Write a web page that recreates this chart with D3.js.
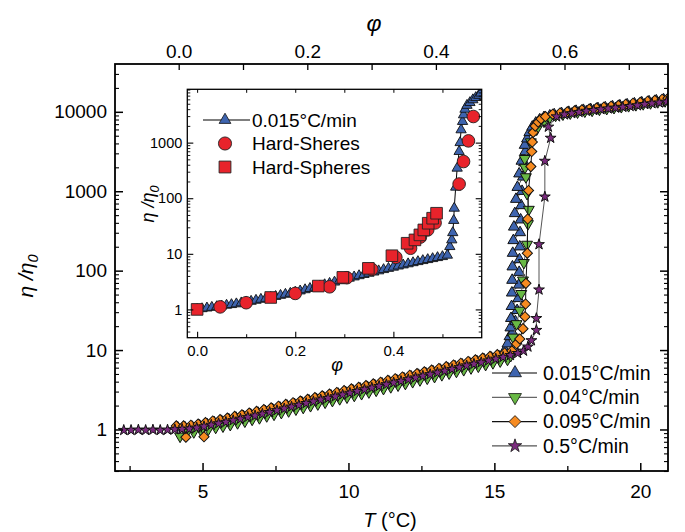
<!DOCTYPE html>
<html><head><meta charset="utf-8">
<script src="https://cdn.jsdelivr.net/npm/d3@7"></script>
<style>body{margin:0;background:#fff}</style>
</head><body><svg id="c" width="685" height="532"></svg>
<script>
// ---------------- DATA ----------------
const seriesNames = ["0.015°C/min", "0.04°C/min", "0.095°C/min", "0.5°C/min"];
const xTicksT = [5, 10, 15, 20];
const yTicksMain = [1, 10, 100, 1000, 10000];
const xTicksPhiTop = [0.0, 0.2, 0.4, 0.6];
const insetXTicks = [0.0, 0.2, 0.4];
const insetYTicks = [1, 10, 100, 1000];
const insetNames = ["0.015°C/min", "Hard-Sheres", "Hard-Spheres"];

// 0.015 °C/min (T in °C, eta/eta0)
const tBlue = [4.15,4.4,4.65,4.9,5.15,5.4,5.65,5.9,6.15,6.4,6.65,6.9,7.15,7.4,7.65,7.9,8.15,8.4,8.65,8.9,9.15,9.4,9.65,9.9,10.15,10.4,10.65,10.9,11.15,11.4,11.65,11.9,12.15,12.4,12.65,12.9,13.15,13.4,13.65,13.9,14.15,14.4,14.65,14.9,15.15,15.3,
 15.36,15.45,15.52,15.62,15.55,15.72,15.57,15.78,15.59,15.82,15.6,15.84,15.61,15.85,15.62,15.86,15.63,15.87,15.65,15.88,15.67,15.9,15.7,15.92,15.74,15.95,15.79,15.98,15.85,16.02,15.93,16.06,16.04,16.12,16.2,16.3,16.42,16.55,16.7,
 16.9,17.05,17.3,17.55,17.8,18.05,18.3,18.55,18.8,19.05,19.3,19.55,19.8,20.05,20.3,20.55,20.8];
const etaBlue = [1.05,1.05,1.07,1.11,1.16,1.22,1.27,1.33,1.39,1.46,1.53,1.61,1.69,1.78,1.87,1.97,2.07,2.18,2.29,2.40,2.52,2.65,2.79,2.93,3.08,3.24,3.40,3.58,3.76,3.95,4.16,4.37,4.59,4.83,5.07,5.33,5.60,5.89,6.19,6.50,6.84,7.19,7.55,7.94,8.34,8.61,
 10.0,12.0,14.8,16.6,19.1,22.9,25.1,31.6,35.5,44.7,52.5,66.1,75.9,95.5,112,138,166,200,240,302,355,437,525,661,794,1000,1122,1514,1660,2291,2399,3162,3802,4571,5495,6457,7244,7943,8511,
 8913,9230,9550,9890,10190,10470,10720,11020,11300,11610,11940,12300,12650,13030,13430,13800,14220];

// 0.04 °C/min
const tGreen = [4.23,4.45,4.7,4.95,5.2,5.45,5.7,5.95,6.2,6.45,6.7,6.95,7.2,7.45,7.7,7.95,8.2,8.45,8.7,8.95,9.2,9.45,9.7,9.95,10.2,10.45,10.7,10.95,11.2,11.45,11.7,11.95,12.2,12.45,12.7,12.95,13.2,13.45,13.7,13.95,14.2,14.45,14.7,14.95,15.2,15.45,
 15.56,15.64,15.76,15.87,15.92,15.98,16.01,16.12,16.15,16.18,16.12,16.08,16.05,16.04,16.25,16.45,16.7,16.9,
 17.1,17.35,17.6,17.85,18.1,18.35,18.6,18.85,19.1,19.35,19.6,19.85,20.1,20.35,20.6,20.85];
const etaGreen = [0.82,0.91,0.93,0.97,1.01,1.06,1.10,1.15,1.21,1.27,1.34,1.40,1.48,1.55,1.63,1.71,1.80,1.89,1.99,2.09,2.20,2.31,2.43,2.55,2.68,2.82,2.96,3.11,3.27,3.44,3.61,3.79,3.99,4.20,4.41,4.63,4.88,5.12,5.38,5.65,5.94,6.25,6.56,6.90,7.26,7.62,
 8.5,14.5,21.4,31.6,51.3,75.9,126,214,389,589,933,1514,1995,2570,4169,6026,7586,8511,
 9020,9330,9620,9890,10160,10420,10720,10960,11270,11590,11910,12250,12590,12940,13340,13710];

// 0.095 °C/min
const tOrange = [4.1,4.35,4.43,4.6,4.85,5.05,5.1,5.35,5.6,5.85,6.1,6.35,6.6,6.85,7.1,7.35,7.6,7.85,8.1,8.35,8.6,8.85,9.1,9.35,9.6,9.85,10.1,10.35,10.6,10.85,11.1,11.35,11.6,11.85,12.1,12.35,12.6,12.85,13.1,13.35,13.6,13.85,14.1,14.35,14.6,14.85,15.1,15.35,15.6,
 15.76,15.87,15.98,16.05,16.07,16.08,16.13,16.14,16.17,16.25,16.28,16.3,16.33,16.4,16.5,16.6,16.75,
 17.0,17.25,17.5,17.75,18.0,18.25,18.5,18.75,19.0,19.25,19.5,19.75,20.0,20.25,20.5,20.75,20.95];
const etaOrange = [1.11,1.11,0.80,1.13,1.17,0.81,1.22,1.28,1.33,1.39,1.46,1.53,1.61,1.69,1.78,1.87,1.96,2.07,2.17,2.28,2.40,2.52,2.65,2.79,2.92,3.08,3.24,3.40,3.57,3.75,3.94,4.15,4.36,4.58,4.82,5.06,5.32,5.59,5.87,6.18,6.49,6.82,7.18,7.53,7.93,8.32,8.75,9.20,9.77,
 12.0,13.8,18.6,26.3,38.0,69.2,166,447,1023,2042,3162,4169,5495,6607,7413,8128,8710,
 9330,9660,10000,10280,10590,10840,11140,11430,11750,12080,12450,12820,13180,13580,13960,14390,14790];

// 0.5 °C/min
const tPurple = [2.3,2.55,2.8,3.05,3.3,3.55,3.8,4.05,4.3,4.55,4.8,5.05,5.3,5.55,5.8,6.05,6.3,6.55,6.8,7.05,7.3,7.55,7.8,8.05,8.3,8.55,8.8,9.05,9.3,9.55,9.8,10.05,10.3,10.55,10.8,11.05,11.3,11.55,11.8,12.05,12.3,12.55,12.8,13.05,13.3,13.55,13.8,14.05,14.3,14.55,14.8,15.05,15.3,15.55,15.8,16.0,
 16.15,16.27,16.44,16.44,16.53,16.53,16.73,16.73,16.93,16.85,
 17.13,17.4,17.65,17.9,18.15,18.4,18.65,18.9,19.15,19.4,19.65,19.9,20.15,20.4,20.65,20.9];
const etaPurple = [0.98,0.98,0.99,0.98,0.99,0.98,0.99,1.00,1.01,1.02,1.05,1.09,1.14,1.19,1.24,1.30,1.36,1.43,1.49,1.57,1.65,1.74,1.83,1.93,2.03,2.14,2.25,2.37,2.48,2.60,2.74,2.88,3.03,3.19,3.34,3.51,3.69,3.88,4.06,4.27,4.49,4.72,4.94,5.19,5.46,5.75,6.05,6.37,6.67,6.98,7.36,7.74,8.15,8.61,9.12,9.77,
 11.0,13.2,17.8,25.1,57.5,214,851,2400,4680,6460,
 8710,9230,9550,9890,10230,10470,10720,10960,11220,11480,11750,12020,12450,12740,13030,13340];

// Inset: 0.015 °C/min vs phi
const phiInset = [0,0.01,0.02,0.03,0.04,0.05,0.06,0.07,0.08,0.09,0.10,0.11,0.12,0.13,0.14,0.15,0.16,0.17,0.18,0.19,0.20,0.21,0.22,0.23,0.24,0.25,0.26,0.27,0.28,0.29,0.30,0.31,0.32,0.33,0.34,0.35,0.36,0.37,0.38,0.39,0.40,0.41,0.42,0.43,0.44,0.45,0.46,0.47,0.48,0.49,0.50,0.51,
 0.515,0.519,0.521,0.523,0.524,0.527,0.530,0.534,0.536,0.538,0.541,0.543,0.546,0.550,0.556,0.562,0.568,0.574,0.578];
const etaInset = [1.00,1.03,1.06,1.09,1.12,1.15,1.19,1.22,1.26,1.31,1.35,1.40,1.46,1.52,1.58,1.64,1.71,1.79,1.87,1.95,2.04,2.15,2.26,2.38,2.50,2.63,2.78,2.94,3.10,3.28,3.47,3.65,3.84,4.04,4.25,4.47,4.70,4.94,5.20,5.47,5.75,6.03,6.31,6.61,6.92,7.24,7.55,7.87,8.20,8.55,8.91,9.44,
 13.5,17.8,24.0,39.8,66.1,158,347,692,1000,1700,2400,3160,3980,4680,5250,5890,6460,7080,7760];
// Hard spheres (circles)
const phiHSc = [0.047,0.10,0.20,0.27,0.305,0.356,0.405,0.435,0.455,0.47,0.485,0.534,0.543,0.553,0.563];
const etaHSc = [1.11,1.32,1.94,2.55,3.71,5.26,8.65,12.6,20,27,36,180,457,1075,2950];
// Hard spheres (squares)
const phiHSs = [0,0.15,0.247,0.297,0.349,0.397,0.428,0.444,0.454,0.462,0.471,0.480,0.488];
const etaHSs = [1.0,1.64,2.63,3.77,5.48,9.25,15.5,17.8,21.9,26.9,35.5,43.7,53.7];

// ---------------- DRAW ----------------
const FONT = '"Liberation Sans", Arial, Helvetica, sans-serif';
const svg = d3.select("#c").attr("font-family", FONT);
const L = 115, R = 668, TOP = 64, B = 471;
const x = d3.scaleLinear().domain([2, 20.95]).range([L, R]);
const y = d3.scaleLog().domain([0.3, 40000]).range([B, TOP]);
const xp = d3.scaleLinear().domain([0, 0.7]).range([178.7, 628.8]);

function minorLog(dom) {
  const out = [];
  for (let k = -2; k <= 5; k++) for (let m = 2; m <= 9; m++) {
    const v = m * Math.pow(10, k);
    if (v > dom[0] && v < dom[1]) out.push(v);
  }
  return out;
}
function styleAxis(g, fs, sw) {
  g.attr("font-family", FONT).attr("font-size", fs);
  g.select(".domain").remove();
  g.selectAll(".tick line").attr("stroke", "#000").attr("stroke-width", sw);
  g.selectAll(".tick text").attr("fill", "#000");
}

const styles = [
  {fill: "#3e64af", type: d3.symbolTriangle, size: 52, rot: 0, line: "#555"},
  {fill: "#68b944", type: d3.symbolTriangle, size: 52, rot: 180, line: "#666"},
  {fill: "#f68b21", type: d3.symbolSquare, size: 52, rot: 45, line: "#111"},
  {fill: "#7b2b7e", type: d3.symbolStar, size: 36, rot: 0, line: "#555"}
];
const mainData = [[tBlue, etaBlue], [tGreen, etaGreen], [tOrange, etaOrange], [tPurple, etaPurple]];

svg.append("clipPath").attr("id", "clipMain").append("rect")
  .attr("x", L).attr("y", TOP).attr("width", R - L).attr("height", B - TOP);
const plot = svg.append("g").attr("clip-path", "url(#clipMain)");

mainData.forEach(([ts, es], i) => {
  const st = styles[i];
  const pts = ts.map((t, j) => [t, es[j]]);
  plot.append("path").datum(pts)
    .attr("fill", "none").attr("stroke", st.line).attr("stroke-width", 1)
    .attr("d", d3.line().x(d => x(d[0])).y(d => y(d[1])));
  plot.append("g").selectAll("path").data(pts).join("path")
    .attr("d", d3.symbol().type(st.type).size(st.size)())
    .attr("transform", d => `translate(${x(d[0])},${y(d[1])}) rotate(${st.rot})`)
    .attr("fill", st.fill).attr("stroke", "#111").attr("stroke-width", 1);
});

// frame & axes
svg.append("rect").attr("x", L).attr("y", TOP).attr("width", R - L).attr("height", B - TOP)
  .attr("fill", "none").attr("stroke", "#000").attr("stroke-width", 1.8);

const gb = svg.append("g").attr("transform", `translate(0,${B})`)
  .call(d3.axisBottom(x).tickValues(xTicksT).tickSize(-8).tickPadding(14).tickFormat(d3.format("d")));
styleAxis(gb, 19, 1.5);
const gbm = svg.append("g").attr("transform", `translate(0,${B})`)
  .call(d3.axisBottom(x).tickValues([2.5, 7.5, 12.5, 17.5]).tickSize(-5).tickFormat(""));
styleAxis(gbm, 19, 1.3);

const gt = svg.append("g").attr("transform", `translate(0,${TOP})`)
  .call(d3.axisTop(xp).tickValues(xTicksPhiTop).tickSize(-6).tickPadding(6).tickFormat(d3.format(".1f")));
styleAxis(gt, 19, 1.3);
const gtm = svg.append("g").attr("transform", `translate(0,${TOP})`)
  .call(d3.axisTop(xp).tickValues([0.1, 0.3, 0.5, 0.7]).tickSize(-6).tickFormat(""));
styleAxis(gtm, 19, 1.3);

const gl = svg.append("g").attr("transform", `translate(${L},0)`)
  .call(d3.axisLeft(y).tickValues(yTicksMain).tickSize(-8).tickPadding(8).tickFormat(d3.format("d")));
styleAxis(gl, 19, 1.5);
const glm = svg.append("g").attr("transform", `translate(${L},0)`)
  .call(d3.axisLeft(y).tickValues(minorLog(y.domain())).tickSize(-4).tickFormat(""));
styleAxis(glm, 19, 1.1);
const gr = svg.append("g").attr("transform", `translate(${R},0)`)
  .call(d3.axisRight(y).tickValues(yTicksMain).tickSize(-8).tickFormat(""));
styleAxis(gr, 19, 1.5);
const grm = svg.append("g").attr("transform", `translate(${R},0)`)
  .call(d3.axisRight(y).tickValues(minorLog(y.domain())).tickSize(-4).tickFormat(""));
styleAxis(grm, 19, 1.1);

// axis titles
function etaLabel(g, fs) {
  const t = g.append("text").attr("font-size", fs).attr("font-style", "italic")
    .attr("text-anchor", "middle").attr("fill", "#000");
  t.append("tspan").text("η /η");
  t.append("tspan").attr("font-size", fs * 0.7).attr("dy", fs * 0.25).text("0");
}
etaLabel(svg.append("g").attr("transform", "translate(33,276) rotate(-90)"), 21);
const tl = svg.append("text").attr("x", 390).attr("y", 527).attr("text-anchor", "middle")
  .attr("font-size", 20).attr("fill", "#000");
tl.append("tspan").attr("font-style", "italic").text("T");
tl.append("tspan").text(" (°C)");
svg.append("text").attr("x", 374).attr("y", 31).attr("text-anchor", "middle")
  .attr("font-size", 23).attr("font-style", "italic").attr("fill", "#000").text("φ");

// main legend
const lg = svg.append("g");
seriesNames.forEach((name, i) => {
  const st = styles[i];
  const ly = 373 + i * 24.3;
  lg.append("line").attr("x1", 492).attr("x2", 537).attr("y1", ly).attr("y2", ly)
    .attr("stroke", st.line).attr("stroke-width", 1.3);
  lg.append("path").attr("d", d3.symbol().type(st.type).size(st.size + 20)())
    .attr("transform", `translate(515,${ly}) rotate(${st.rot})`)
    .attr("fill", st.fill).attr("stroke", "#111").attr("stroke-width", 0.8);
  lg.append("text").attr("x", 543).attr("y", ly).attr("dy", "0.35em")
    .attr("font-size", 19.5).attr("fill", "#000").text(name);
});

// ---------------- INSET ----------------
const IL = 187.3, IR = 481.7, IT = 89.3, IB = 337.7;
const ix = d3.scaleLinear().domain([-0.02, 0.58]).range([IL, IR]);
const iy = d3.scaleLog().domain([0.31, 9100]).range([IB, IT]);
const inset = svg.append("g");
inset.append("rect").attr("x", IL).attr("y", IT).attr("width", IR - IL).attr("height", IB - IT)
  .attr("fill", "#fff");
inset.append("clipPath").attr("id", "clipIn").append("rect")
  .attr("x", IL).attr("y", IT).attr("width", IR - IL).attr("height", IB - IT);
const ip = inset.append("g").attr("clip-path", "url(#clipIn)");

const inPts = phiInset.map((p, j) => [p, etaInset[j]]);
ip.append("path").datum(inPts).attr("fill", "none").attr("stroke", "#000").attr("stroke-width", 1)
  .attr("d", d3.line().x(d => ix(d[0])).y(d => iy(d[1])));
ip.append("g").selectAll("path").data(inPts).join("path")
  .attr("d", d3.symbol().type(d3.symbolTriangle).size(46)())
  .attr("transform", d => `translate(${ix(d[0])},${iy(d[1])})`)
  .attr("fill", "#3e64af").attr("stroke", "#111").attr("stroke-width", 0.9);
ip.append("g").selectAll("path").data(phiHSc.map((p, j) => [p, etaHSc[j]])).join("path")
  .attr("d", d3.symbol().type(d3.symbolCircle).size(125)())
  .attr("transform", d => `translate(${ix(d[0])},${iy(d[1])})`)
  .attr("fill", "#e8232b").attr("stroke", "#222").attr("stroke-width", 0.9);
ip.append("g").selectAll("path").data(phiHSs.map((p, j) => [p, etaHSs[j]])).join("path")
  .attr("d", d3.symbol().type(d3.symbolSquare).size(135)())
  .attr("transform", d => `translate(${ix(d[0])},${iy(d[1])})`)
  .attr("fill", "#e8232b").attr("stroke", "#222").attr("stroke-width", 0.9);

inset.append("rect").attr("x", IL).attr("y", IT).attr("width", IR - IL).attr("height", IB - IT)
  .attr("fill", "none").attr("stroke", "#000").attr("stroke-width", 1.3);

const ib = inset.append("g").attr("transform", `translate(0,${IB})`)
  .call(d3.axisBottom(ix).tickValues(insetXTicks).tickSize(-6).tickPadding(8).tickFormat(d3.format(".1f")));
styleAxis(ib, 15, 1.1);
const ibm = inset.append("g").attr("transform", `translate(0,${IB})`)
  .call(d3.axisBottom(ix).tickValues([0.1, 0.3, 0.5]).tickSize(-3.5).tickFormat(""));
styleAxis(ibm, 15, 1);
const itp = inset.append("g").attr("transform", `translate(0,${IT})`)
  .call(d3.axisTop(ix).tickValues([0, 0.1, 0.2, 0.3, 0.4, 0.5]).tickSize(-3.5).tickFormat(""));
styleAxis(itp, 15, 1);
const ilf = inset.append("g").attr("transform", `translate(${IL},0)`)
  .call(d3.axisLeft(iy).tickValues(insetYTicks).tickSize(-6).tickPadding(5).tickFormat(d3.format("d")));
styleAxis(ilf, 14.5, 1.1);
const ilm = inset.append("g").attr("transform", `translate(${IL},0)`)
  .call(d3.axisLeft(iy).tickValues(minorLog(iy.domain())).tickSize(-3).tickFormat(""));
styleAxis(ilm, 15, 0.9);
const irt = inset.append("g").attr("transform", `translate(${IR},0)`)
  .call(d3.axisRight(iy).tickValues(insetYTicks).tickSize(-6).tickFormat(""));
styleAxis(irt, 15, 1.1);
const irm = inset.append("g").attr("transform", `translate(${IR},0)`)
  .call(d3.axisRight(iy).tickValues(minorLog(iy.domain())).tickSize(-3).tickFormat(""));
styleAxis(irm, 15, 0.9);

etaLabel(inset.append("g").attr("transform", "translate(154,204) rotate(-90)"), 18);
inset.append("text").attr("x", 337).attr("y", 371).attr("text-anchor", "middle")
  .attr("font-size", 18).attr("font-style", "italic").attr("fill", "#000").text("φ");

// inset legend
const il = inset.append("g");
il.append("line").attr("x1", 203).attr("x2", 250).attr("y1", 120).attr("y2", 120)
  .attr("stroke", "#000").attr("stroke-width", 1.2);
il.append("path").attr("d", d3.symbol().type(d3.symbolTriangle).size(60)())
  .attr("transform", "translate(225,120)").attr("fill", "#3e64af").attr("stroke", "#111").attr("stroke-width", 0.8);
il.append("path").attr("d", d3.symbol().type(d3.symbolCircle).size(135)())
  .attr("transform", "translate(225,143.5)").attr("fill", "#e8232b").attr("stroke", "#222").attr("stroke-width", 0.9);
il.append("path").attr("d", d3.symbol().type(d3.symbolSquare).size(140)())
  .attr("transform", "translate(225,167)").attr("fill", "#e8232b").attr("stroke", "#222").attr("stroke-width", 0.9);
insetNames.forEach((n, i) => {
  il.append("text").attr("x", 252).attr("y", [120, 143.5, 167][i]).attr("dy", "0.35em")
    .attr("font-size", 19).attr("fill", "#000").text(n);
});
</script></body></html>
